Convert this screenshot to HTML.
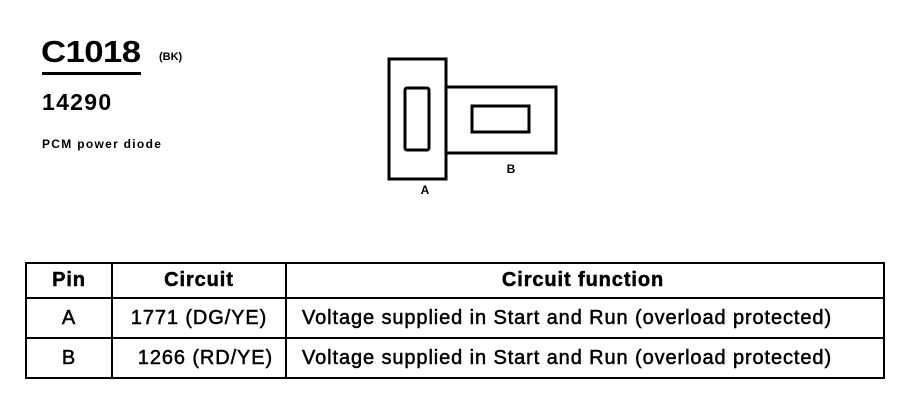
<!DOCTYPE html>
<html><head><style>
body{margin:0;background:#fff;width:902px;height:416px;position:relative;overflow:hidden;font-family:"Liberation Sans",Arial,sans-serif;color:#000}
.t{position:absolute;white-space:nowrap;font-weight:bold;line-height:1}
table{position:absolute;left:25px;top:262px;border-collapse:collapse;width:860px;height:115px}
td{border:2px solid #000;text-align:center;font-size:20px;padding:0;letter-spacing:0.9px;-webkit-text-stroke:0.5px #000}
</style></head><body>
<div class="t" style="left:41px;top:36px;font-size:31px;letter-spacing:-0.5px;transform:scaleX(1.12);transform-origin:left">C1018</div>
<div class="t" style="left:159px;top:52px;font-size:11px">(BK)</div>
<div style="position:absolute;left:42px;top:72px;width:99px;height:3px;background:#000"></div>
<div class="t" style="left:42px;top:91px;font-size:23px;letter-spacing:1.3px">14290</div>
<div class="t" style="left:42px;top:138px;font-size:12px;letter-spacing:1.3px">PCM power diode</div>
<svg style="position:absolute;left:0;top:0" width="902" height="416">
<g fill="none" stroke="#000" stroke-width="3">
<rect x="389" y="59" width="57" height="120"/>
<rect x="446" y="87" width="110" height="66"/>
<rect x="405" y="88" width="24" height="62" rx="2"/>
<rect x="472" y="106" width="57" height="26"/>
</g>
<text x="425" y="194" font-family="Liberation Sans" font-weight="bold" font-size="12" text-anchor="middle">A</text>
<text x="511" y="173" font-family="Liberation Sans" font-weight="bold" font-size="12" text-anchor="middle">B</text>
</svg>
<table>
<tr style="height:35px"><td style="width:84px;font-weight:bold">Pin</td><td style="width:172px;font-weight:bold">Circuit</td><td style="font-weight:bold;padding-right:4px">Circuit function</td></tr>
<tr style="height:40px"><td>A</td><td>1771 (DG/YE)</td><td style="padding-right:36px">Voltage supplied in Start and Run (overload protected)</td></tr>
<tr style="height:40px"><td>B</td><td>&nbsp;&nbsp;1266 (RD/YE)</td><td style="padding-right:36px">Voltage supplied in Start and Run (overload protected)</td></tr>
</table>
</body></html>
